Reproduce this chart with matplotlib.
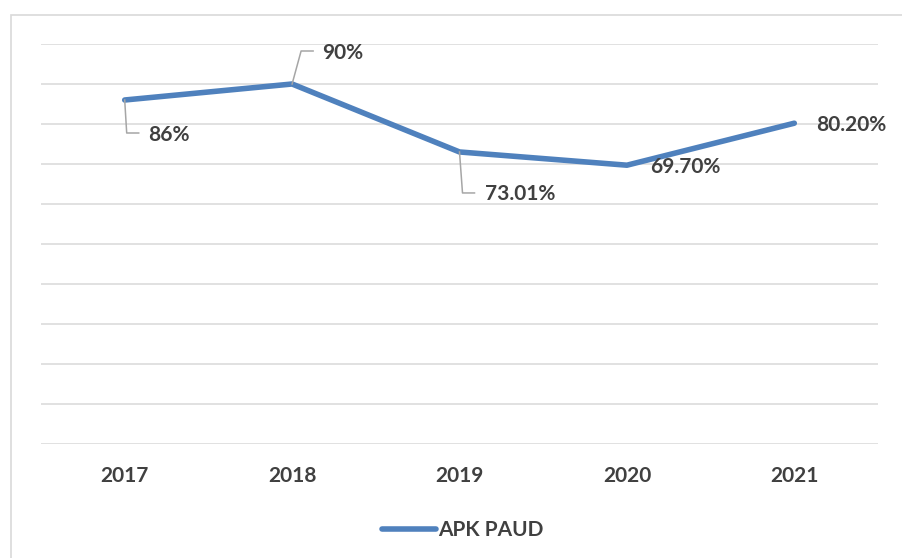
import matplotlib
matplotlib.use("Agg")
import matplotlib.pyplot as plt
from matplotlib.patches import Rectangle
from matplotlib.lines import Line2D
from matplotlib.transforms import IdentityTransform

years = ["2017", "2018", "2019", "2020", "2021"]
apk_paud = [86, 90, 73.01, 69.70, 80.20]
value_labels = ["86%", "90%", "73.01%", "69.70%", "80.20%"]

# label placement in pixels relative to the point (text left, text centre) and leader lines
label_offsets = [(23, -35), (30, 31), (25, -42), (23, -2), (22, -2)]
leaders = [
    [(0, 0), (2, -33), (14, -33)],
    [(0, 0), (9, 33), (21, 33)],
    [(0, 0), (3, -41), (15, -41)],
    None,
    None,
]

plt.rcParams['font.family'] = ['Lato', 'DejaVu Sans']
text_color = "#404040"
line_color = "#4F81BD"
grid_color = "#D9D9D9"

fig = plt.figure(figsize=(9.02, 5.58), dpi=100)
ax = fig.add_axes([41 / 902, 1 - 444 / 558, (878 - 41) / 902, 400 / 558])

# outer chart frame
fig.patches.append(Rectangle((11 / 902, -0.1), 1.0, (558 - 15) / 558 + 0.1,
                             transform=fig.transFigure, fill=False,
                             edgecolor=grid_color, linewidth=1.2))

x = list(range(len(years)))
ax.plot(x, apk_paud, color=line_color, linewidth=4.0, solid_capstyle='round',
        solid_joinstyle='round', label="APK PAUD", zorder=3)

ax.set_xlim(-0.5, len(years) - 0.5)
ax.set_ylim(0, 100)
ax.set_yticks(range(0, 101, 10))
ax.yaxis.grid(True, color=grid_color, linewidth=1.1)
ax.set_axisbelow(True)
ax.tick_params(axis='y', left=False, labelleft=False)
ax.set_xticks(x)
ax.set_xticklabels(years, fontsize=15, fontweight='bold', color=text_color)
ax.tick_params(axis='x', length=0, pad=16)
for s in ax.spines.values():
    s.set_visible(False)

for i, v in enumerate(apk_paud):
    px, py = ax.transData.transform((i, v))
    dx, dy = label_offsets[i]
    ax.annotate(value_labels[i], (i, v), xytext=(dx, dy), textcoords='offset pixels',
                ha='left', va='center', fontsize=15, fontweight='bold',
                color=text_color, zorder=4)
    if leaders[i]:
        xs = [px + a for a, b in leaders[i]]
        ys = [py + b for a, b in leaders[i]]
        fig.add_artist(Line2D(xs, ys, transform=IdentityTransform(),
                              color="#A6A6A6", linewidth=1.1))

leg = fig.legend(loc='center', bbox_to_anchor=(463 / 902, 1 - 530 / 558),
                 frameon=False, handlelength=2.6, handletextpad=0.1,
                 prop={'size': 15, 'weight': 'bold'})
for t in leg.get_texts():
    t.set_color(text_color)

fig.savefig("out.png", dpi=100)
